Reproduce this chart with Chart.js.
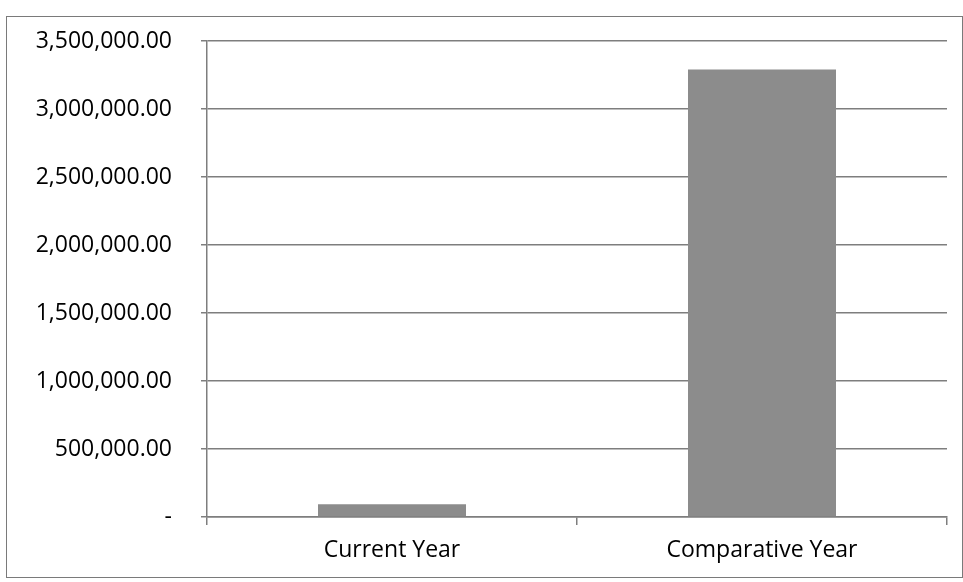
<!DOCTYPE html>
<html>
<head>
<meta charset="utf-8">
<script src="https://cdn.jsdelivr.net/npm/chart.js@4/dist/chart.umd.min.js"></script>
<style>
  html, body { margin: 0; padding: 0; background: #fff; }
  #frame {
    position: absolute; left: 6px; top: 16px;
    width: 955px; height: 560px;
    border: 1px solid #7a7a7a;
  }
</style>
</head>
<body>
<div id="frame"><canvas id="myChart"></canvas></div>
<script>
// Year totals
const categories = ['Current Year', 'Comparative Year'];
const totals = [93000, 3290000];
const yTicks = [0, 500000, 1000000, 1500000, 2000000, 2500000, 3000000, 3500000];

const gridGray = '#7e7e7e';
const font = { family: '"Open Sans", "Liberation Sans", sans-serif', size: 23 };

function money(v) {
    if (v === 0) return '-';
    return v.toLocaleString('en-US', { minimumFractionDigits: 2, maximumFractionDigits: 2 });
}

const ctx = document.getElementById('myChart').getContext('2d');
const myChart = new Chart(ctx, {
    type: 'bar',
    data: {
        labels: categories,
        datasets: [{
            data: totals,
            backgroundColor: '#8c8c8c',
            borderWidth: 0,
            categoryPercentage: 1,
            barPercentage: 0.4
        }]
    },
    options: {
        responsive: true,
        maintainAspectRatio: false,
        animation: false,
        layout: { padding: { top: 24, right: 15, left: 0, bottom: 0 } },
        plugins: { legend: { display: false }, tooltip: { enabled: false } },
        scales: {
            x: {
                grid: { drawOnChartArea: false, drawTicks: true, tickLength: 8, color: gridGray, lineWidth: 1.5 },
                border: { display: true, color: gridGray, width: 1.5 },
                ticks: { color: '#000', font: font, padding: 12 },
                afterFit: scale => { scale.height = 60; }
            },
            y: {
                min: 0,
                max: 3500000,
                afterBuildTicks: scale => { scale.ticks = yTicks.map(v => ({ value: v })); },
                grid: { color: gridGray, lineWidth: 1.5, tickLength: 6 },
                border: { display: true, color: gridGray, width: 1.5 },
                ticks: { color: '#000', font: font, padding: 29, callback: v => money(v) },
                afterFit: scale => {
                    // fixed axis width, no extra room above/below for the end labels
                    scale.width = 200;
                    scale.paddingTop = 0;
                    scale.paddingBottom = 0;
                }
            }
        }
    }
});
</script>
</body>
</html>
